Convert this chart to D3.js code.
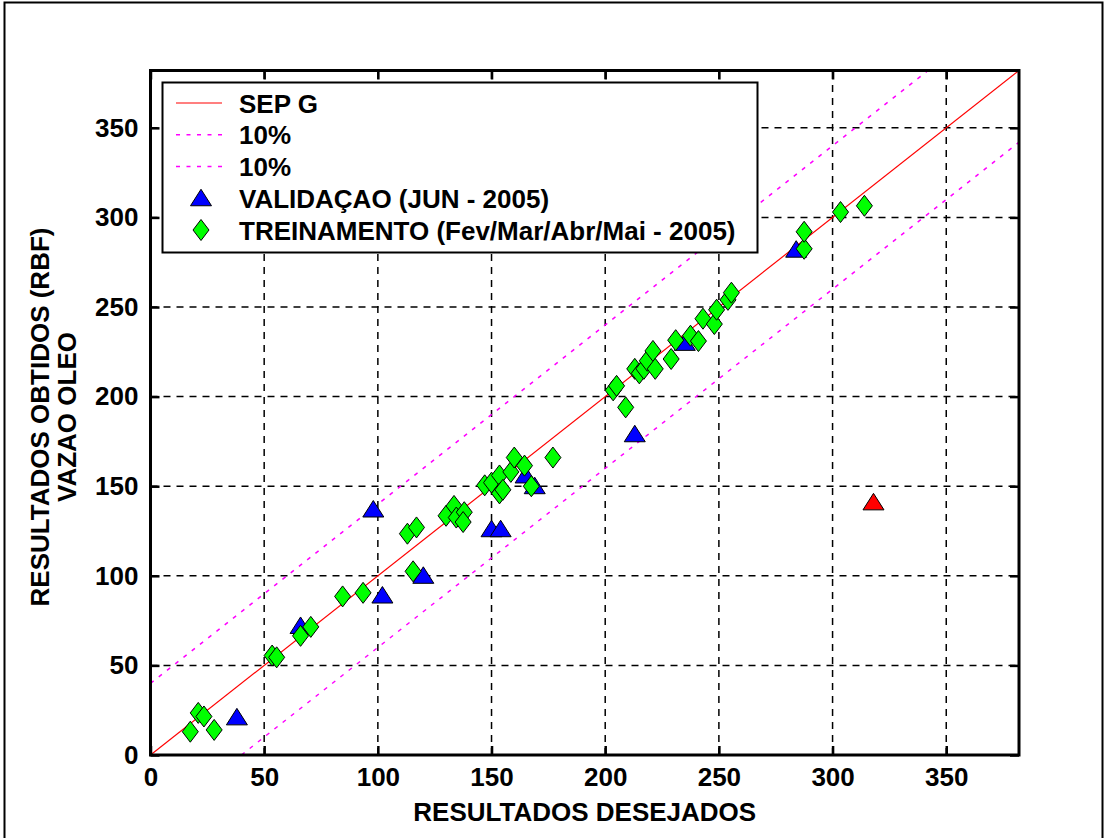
<!DOCTYPE html>
<html>
<head>
<meta charset="utf-8">
<script src="https://cdn.jsdelivr.net/npm/d3@7"></script>
<style>
    body { margin: 0; background: #fff; }
    text { font-family: "Liberation Sans", Arial, Helvetica, sans-serif; font-weight: bold; fill: #000; }
</style>
</head>
<body>
<script>
//wrap everything in a self-executing anonymous function to move to local scope
(function () {

    //axis limits and tick values
    var axisMax = 382;
    var tickValues = [0, 50, 100, 150, 200, 250, 300, 350];
    var bandOffset = 40; //half width of the 10% band

    //legend labels
    var legendLabels = ["SEP G", "10%", "10%", "VALIDAÇAO (JUN - 2005)", "TREINAMENTO (Fev/Mar/Abr/Mai - 2005)"];

    //validation points (desejado, obtido)
    var validacao = [
        [38, 21], [66, 72], [102, 89], [98, 137], [120, 100],
        [150, 126], [154, 126], [165, 156], [169, 150], [213, 179],
        [235, 230], [284, 282]
    ];

    //training points (desejado, obtido)
    var treinamento = [
        [17.5, 13], [21, 23.5], [23.5, 21.5], [28, 14], [53.5, 55.5], [55.5, 54.5],
        [66, 66.5], [70.5, 71.5], [84.5, 88.5], [93.5, 90.5], [113, 123.5], [117, 127],
        [115.5, 102.5], [130, 133.5], [133.5, 139], [134.5, 132.5], [138, 135.5], [137.5, 130],
        [147, 150.5], [150, 152], [153.5, 156], [153.5, 146], [155, 148], [158.5, 158],
        [160, 166], [164.5, 161.5], [167.5, 150], [177, 166], [203.5, 203.5], [205, 206],
        [209, 194], [213, 215.5], [215, 213], [217, 215.5], [218.5, 220], [221, 225.5],
        [222, 215.5], [229, 221], [231, 231.5], [237.5, 234], [241, 231], [243, 243.5],
        [248, 240.5], [249, 248.5], [254, 254], [255.5, 258], [287.5, 282.5], [287.5, 292],
        [303.5, 303], [314, 306.5]
    ];

    //single point plotted apart in red
    var destaque = [[318, 141]];

    window.onload = setChart();

    function setChart(){

        var width = 1107,
            height = 838;

        var svg = d3.select("body")
            .append("svg")
            .attr("width", width)
            .attr("height", height);

        //figure frame
        svg.append("rect")
            .attr("x", 4.5).attr("y", 2.5)
            .attr("width", 1098).attr("height", 900)
            .attr("fill", "none")
            .attr("stroke", "#000")
            .attr("stroke-width", 2);

        var x = d3.scaleLinear().domain([0, axisMax]).range([150.5, 1019]);
        var y = d3.scaleLinear().domain([0, axisMax]).range([755, 70.5]);

        svg.append("clipPath").attr("id", "plotClip")
            .append("rect")
            .attr("x", x(0)).attr("y", y(axisMax))
            .attr("width", x(axisMax) - x(0))
            .attr("height", y(0) - y(axisMax));

        setGrid(svg, x, y);
        setLines(svg, x, y);
        setPoints(svg, x, y);
        setAxes(svg, x, y);
        setLegend(svg);
    };

    function setGrid(svg, x, y){
        var gridTicks = tickValues.filter(function (d) { return d > 0; });

        var grid = svg.append("g").attr("class", "grid")
            .attr("stroke", "#000")
            .attr("stroke-width", 1.5)
            .attr("stroke-dasharray", "7,6");

        grid.selectAll(".vgrid")
            .data(gridTicks)
            .enter()
            .append("line")
            .attr("x1", function (d) { return x(d); })
            .attr("x2", function (d) { return x(d); })
            .attr("y1", y(0))
            .attr("y2", y(axisMax));

        grid.selectAll(".hgrid")
            .data(gridTicks)
            .enter()
            .append("line")
            .attr("x1", x(0))
            .attr("x2", x(axisMax))
            .attr("y1", function (d) { return y(d); })
            .attr("y2", function (d) { return y(d); });
    }

    function setLines(svg, x, y){
        var line = d3.line()
            .x(function (d) { return x(d[0]); })
            .y(function (d) { return y(d[1]); });

        var g = svg.append("g").attr("clip-path", "url(#plotClip)");

        //ideal line y = x
        g.append("path")
            .datum([[0, 0], [axisMax, axisMax]])
            .attr("d", line)
            .attr("fill", "none")
            .attr("stroke", "#ff0000")
            .attr("stroke-width", 1.2);

        //upper and lower band
        var bands = [
            [[0, bandOffset], [axisMax - bandOffset, axisMax]],
            [[bandOffset, 0], [axisMax, axisMax - bandOffset]]
        ];
        g.selectAll(".band")
            .data(bands)
            .enter()
            .append("path")
            .attr("class", "band")
            .attr("d", line)
            .attr("fill", "none")
            .attr("stroke", "#ff00ff")
            .attr("stroke-width", 1.5)
            .attr("stroke-dasharray", "4,6.5");
    }

    //marker shapes
    function trianglePath(){
        return "M0,-9L10.5,7.5L-10.5,7.5Z";
    }
    function diamondPath(){
        return "M0,-10.5L8,0L0,10.5L-8,0Z";
    }

    function setPoints(svg, x, y){
        var g = svg.append("g").attr("class", "points");

        g.selectAll(".validacao")
            .data(validacao)
            .enter()
            .append("path")
            .attr("class", "validacao")
            .attr("d", trianglePath())
            .attr("transform", function (d) { return "translate(" + x(d[0]) + "," + y(d[1]) + ")"; })
            .attr("fill", "#0000ff")
            .attr("stroke", "#000")
            .attr("stroke-width", 1);

        g.selectAll(".treinamento")
            .data(treinamento)
            .enter()
            .append("path")
            .attr("class", "treinamento")
            .attr("d", diamondPath())
            .attr("transform", function (d) { return "translate(" + x(d[0]) + "," + y(d[1]) + ")"; })
            .attr("fill", "#00ff00")
            .attr("stroke", "#000")
            .attr("stroke-width", 1);

        g.selectAll(".destaque")
            .data(destaque)
            .enter()
            .append("path")
            .attr("class", "destaque")
            .attr("d", trianglePath())
            .attr("transform", function (d) { return "translate(" + x(d[0]) + "," + y(d[1]) + ")"; })
            .attr("fill", "#ff0000")
            .attr("stroke", "#000")
            .attr("stroke-width", 1);
    }

    function setAxes(svg, x, y){
        var tickLen = 9;

        var bottom = svg.append("g")
            .attr("transform", "translate(0," + y(0) + ")")
            .call(d3.axisBottom(x).tickValues(tickValues).tickSize(-tickLen).tickPadding(13).tickFormat(d3.format("d")));

        var left = svg.append("g")
            .attr("transform", "translate(" + x(0) + ",0)")
            .call(d3.axisLeft(y).tickValues(tickValues).tickSize(-tickLen).tickPadding(12).tickFormat(d3.format("d")));

        var top = svg.append("g")
            .attr("transform", "translate(0," + y(axisMax) + ")")
            .call(d3.axisTop(x).tickValues(tickValues).tickSize(-tickLen).tickFormat(""));

        var right = svg.append("g")
            .attr("transform", "translate(" + x(axisMax) + ",0)")
            .call(d3.axisRight(y).tickValues(tickValues).tickSize(-tickLen).tickFormat(""));

        [bottom, left, top, right].forEach(function (a) {
            a.select(".domain").remove();
            a.selectAll(".tick line").attr("stroke", "#000").attr("stroke-width", 2.5);
            a.selectAll(".tick text")
                .attr("font-family", null)
                .style("font-size", "26px");
        });

        //axes box
        svg.append("rect")
            .attr("x", x(0)).attr("y", y(axisMax))
            .attr("width", x(axisMax) - x(0))
            .attr("height", y(0) - y(axisMax))
            .attr("fill", "none")
            .attr("stroke", "#000")
            .attr("stroke-width", 3);

        //axis titles
        svg.append("text")
            .attr("x", (x(0) + x(axisMax)) / 2)
            .attr("y", 821)
            .attr("text-anchor", "middle")
            .style("font-size", "26px")
            .text("RESULTADOS DESEJADOS");

        var yTitle = svg.append("text")
            .attr("transform", "translate(49,417) rotate(-90)")
            .attr("text-anchor", "middle")
            .style("font-size", "26px");
        yTitle.append("tspan").attr("x", 0).attr("y", 0).text("RESULTADOS OBTIDOS (RBF)");
        yTitle.append("tspan").attr("x", 0).attr("y", 27).text("VAZAO OLEO");
    }

    function setLegend(svg){
        var box = svg.append("g").attr("class", "legend");

        box.append("rect")
            .attr("x", 162.5).attr("y", 82.5)
            .attr("width", 595).attr("height", 170)
            .attr("fill", "#fff")
            .attr("stroke", "#000")
            .attr("stroke-width", 2);

        var rowY = d3.scaleLinear().domain([0, legendLabels.length - 1]).range([103, 230]);

        var rows = box.selectAll(".row")
            .data(legendLabels)
            .enter()
            .append("g")
            .attr("class", "row")
            .attr("transform", function (d, i) { return "translate(0," + rowY(i) + ")"; });

        rows.append("text")
            .attr("x", 239)
            .attr("y", 9.5)
            .style("font-size", "26px")
            .text(function (d) { return d; });

        rows.each(function (d, i) {
            var r = d3.select(this);
            if (i === 0) {
                r.append("line").attr("x1", 176).attr("x2", 222)
                    .attr("stroke", "#ff0000").attr("stroke-width", 1.2);
            } else if (i < 3) {
                r.append("line").attr("x1", 176).attr("x2", 222)
                    .attr("stroke", "#ff00ff").attr("stroke-width", 1.5)
                    .attr("stroke-dasharray", "4,6.5");
            } else if (i === 3) {
                r.append("path").attr("d", trianglePath())
                    .attr("transform", "translate(201,0)")
                    .attr("fill", "#0000ff").attr("stroke", "#000");
            } else {
                r.append("path").attr("d", diamondPath())
                    .attr("transform", "translate(201,0)")
                    .attr("fill", "#00ff00").attr("stroke", "#000");
            }
        });
    }

})();
</script>
</body>
</html>
